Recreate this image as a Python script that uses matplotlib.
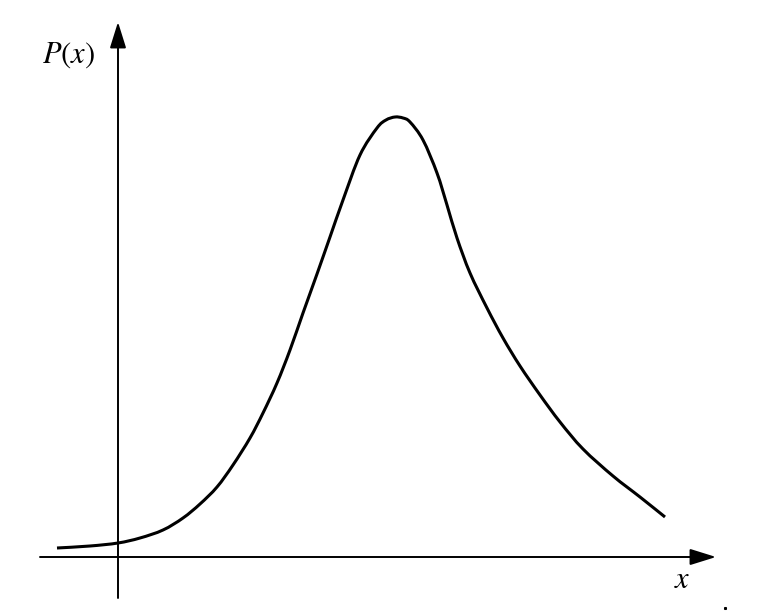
import matplotlib
matplotlib.use("Agg")
import matplotlib.pyplot as plt
from matplotlib.path import Path
from matplotlib.patches import PathPatch
import numpy as np

# Curve (pixel coordinates of the reference, y downward)
curve_x = [57, 90, 118, 140, 163, 183, 200, 217, 233, 250, 263, 277, 290, 303,
           317, 330, 343, 360, 377, 386, 395, 403, 410, 423, 437, 447, 457, 470,
           487, 503, 520, 540, 560, 583, 613, 640, 665]
curve_y = [548, 546, 543, 538, 530, 518, 504, 487, 465, 438, 413, 383, 350, 313,
           274, 237, 200, 155, 128, 120, 117, 118, 122, 140, 173, 205, 238, 273,
           308, 338, 366, 395, 422, 449, 476, 497, 517]

y_label = "$P(x)$"
x_label = "$x$"

plt.rcParams['mathtext.fontset'] = 'stix'

fig = plt.figure(figsize=(7.64, 6.14), dpi=100)
ax = fig.add_axes([0, 0, 1, 1])
ax.set_xlim(0, 764)
ax.set_ylim(614, 0)
ax.axis('off')

arrow = dict(arrowstyle='-|>,head_length=0.8,head_width=0.25',
             mutation_scale=20, lw=1.4, color='black', shrinkA=0, shrinkB=0)
# x axis
ax.annotate('', xy=(716, 557), xytext=(40, 557), arrowprops=arrow)
# y axis
ax.annotate('', xy=(118, 22), xytext=(118, 598), arrowprops=arrow)

# smooth curve through the read points (cubic Bezier segments, Catmull-Rom tangents)
pts = np.column_stack([curve_x, curve_y]).astype(float)
ext = np.vstack([pts[0], pts, pts[-1]])
verts = [pts[0]]
codes = [Path.MOVETO]
for i in range(1, len(ext) - 2):
    p0, p1, p2, p3 = ext[i - 1], ext[i], ext[i + 1], ext[i + 2]
    c1 = p1 + (p2 - p0) / 6.0
    c2 = p2 - (p3 - p1) / 6.0
    verts += [c1, c2, p2]
    codes += [Path.CURVE4] * 3
ax.add_patch(PathPatch(Path(verts, codes), fill=False, edgecolor='black',
                       lw=2.2, capstyle='butt', joinstyle='round'))

ax.text(69, 55, y_label, fontsize=22, ha='center', va='center', color='black')
ax.text(682, 580, x_label, fontsize=22, ha='center', va='center', color='black')
ax.plot([725], [608], marker='s', ms=1.2, color='black')

fig.savefig("out.png", dpi=100)
